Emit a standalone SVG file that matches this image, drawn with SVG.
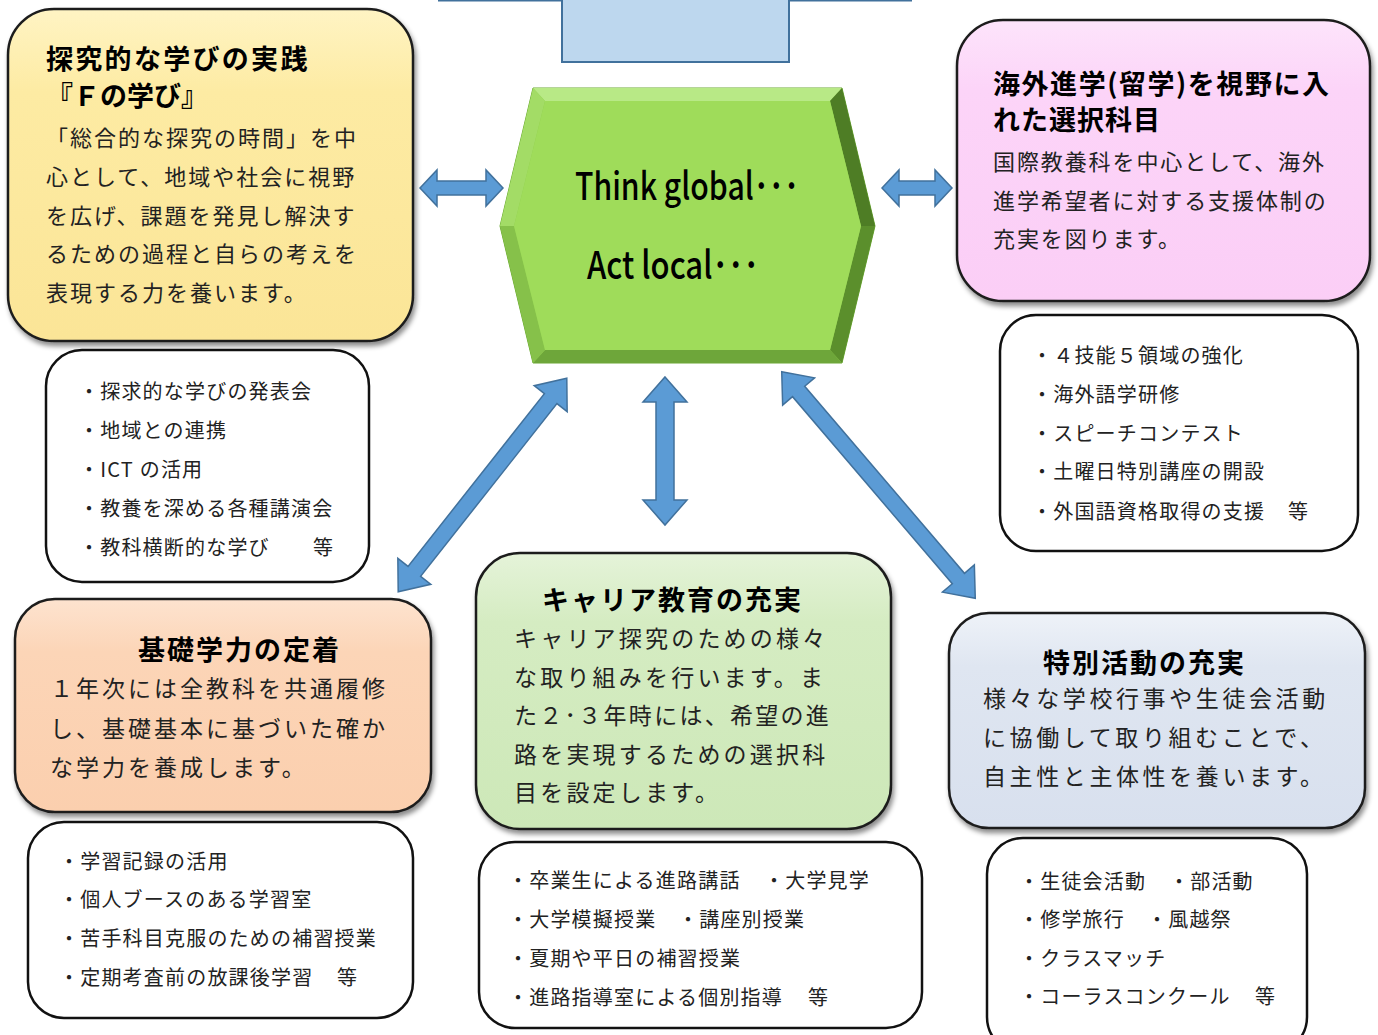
<svg xmlns="http://www.w3.org/2000/svg" width="1378" height="1035" viewBox="0 0 1378 1035">
<defs>
<style>
.card{stroke:#1e1e1e;stroke-width:2.5;filter:url(#sh)}
.list{fill:#fff;stroke:#111;stroke-width:2.5}
.ttl{font-family:"Noto Sans CJK JP","Noto Sans",sans-serif;font-weight:700;font-size:27px;fill:#000}
.body{font-family:"Liberation Serif","Noto Sans CJK JP",serif;font-weight:400;fill:#222}
.li{font-family:"Noto Sans CJK JP","Noto Sans",sans-serif;font-weight:400;font-size:20px;letter-spacing:1.2px;fill:#222}
.arr{fill:#5b9bd5;stroke:#41719c;stroke-width:1.5;stroke-linejoin:miter}
.hx{font-family:"Noto Sans CJK JP","Liberation Sans",sans-serif;font-weight:500;font-size:38px;fill:#000}
</style>
<filter id="sh" x="-10%" y="-10%" width="120%" height="125%">
<feDropShadow dx="2" dy="4" stdDeviation="2.5" flood-color="#000" flood-opacity="0.45"/>
</filter>
<linearGradient id="gY" x1="0" y1="0" x2="0" y2="1"><stop offset="0" stop-color="#fff4c4"/><stop offset="0.25" stop-color="#fdeba3"/><stop offset="1" stop-color="#fbe597"/></linearGradient>
<linearGradient id="gP" x1="0" y1="0" x2="0" y2="1"><stop offset="0" stop-color="#fde4fb"/><stop offset="0.25" stop-color="#fcd4f8"/><stop offset="1" stop-color="#fbcef6"/></linearGradient>
<linearGradient id="gO" x1="0" y1="0" x2="0" y2="1"><stop offset="0" stop-color="#fde3cf"/><stop offset="0.25" stop-color="#fcd5b7"/><stop offset="1" stop-color="#fbcfae"/></linearGradient>
<linearGradient id="gG" x1="0" y1="0" x2="0" y2="1"><stop offset="0" stop-color="#e5f3d9"/><stop offset="0.25" stop-color="#d5ecc2"/><stop offset="1" stop-color="#cde8b8"/></linearGradient>
<linearGradient id="gB" x1="0" y1="0" x2="0" y2="1"><stop offset="0" stop-color="#eef2f8"/><stop offset="0.25" stop-color="#dfe6f1"/><stop offset="1" stop-color="#d8e0ee"/></linearGradient>
</defs>

<rect width="1378" height="1035" fill="#fff"/>

<g id="top-block">
<line x1="438" y1="0.5" x2="912" y2="0.5" stroke="#41719c" stroke-width="2"/>
<rect x="562" y="-2" width="227" height="64" fill="#bdd7ee" stroke="#41719c" stroke-width="2"/>
</g>

<g id="center-hexagon">
<polygon points="533,88 842,88 875,226 842,363 533,363 500,226" fill="#8fcc4f" stroke="#6aa832" stroke-width="1"/>
<polygon points="533,88 842,88 830,101 545,101" fill="#b8e986"/>
<polygon points="842,88 875,226 861,226 830,101" fill="#4e7d25"/>
<polygon points="875,226 842,363 830,350 861,226" fill="#5b8f2c"/>
<polygon points="842,363 533,363 545,350 830,350" fill="#6ea63a"/>
<polygon points="533,363 500,226 514,226 545,350" fill="#86c14a"/>
<polygon points="500,226 533,88 545,101 514,226" fill="#a3dc66"/>
<polygon points="545,101 830,101 861,226 830,350 545,350 514,226" fill="#9fdc5a"/>
<text class="hx" x="575" y="200" textLength="224" lengthAdjust="spacingAndGlyphs">Think global･･･</text>
<text class="hx" x="587" y="279" textLength="172" lengthAdjust="spacingAndGlyphs">Act local･･･</text>
</g>

<g id="connectors">
<polygon class="arr" points="420,188 437,170 437,181 486,181 486,170 503,188 486,206 486,195 437,195 437,206"/>
<polygon class="arr" points="882,188 899,170 899,181 935,181 935,170 952,188 935,206 935,195 899,195 899,206"/>
<polygon class="arr" points="665,377 687,402 674,402 674,500 687,500 665,525 643,500 656,500 656,402 643,402"/>
<polygon class="arr" transform="translate(482.5,485) rotate(-51.7)" points="-136,0 -110,-21 -110,-8 110,-8 110,-21 136,0 110,21 110,8 -110,8 -110,21"/>
<polygon class="arr" transform="translate(878.5,485) rotate(49.5)" points="-149,0 -123,-21 -123,-8 123,-8 123,-21 149,0 123,21 123,8 -123,8 -123,21"/>
</g>

<g id="inquiry-learning">
<rect class="card" x="8" y="9" width="405" height="332" rx="46" fill="url(#gY)"/>
<text class="ttl" x="46" y="69" style="letter-spacing:2.3px">探究的な学びの実践</text>
<text class="ttl" x="46" y="106" style="letter-spacing:0px">『Ｆの学び』</text>
<g class="body" style="font-size:22px;letter-spacing:2px">
<text x="46" y="146">「総合的な探究の時間」を中</text>
<text x="46" y="185">心として、地域や社会に視野</text>
<text x="46" y="224">を広げ、課題を発見し解決す</text>
<text x="46" y="262">るための過程と自らの考えを</text>
<text x="46" y="301">表現する力を養います。</text>
</g>
</g>

<g id="overseas-study">
<rect class="card" x="957" y="20" width="413" height="281" rx="46" fill="url(#gP)"/>
<text class="ttl" x="993" y="94" textLength="336" lengthAdjust="spacing">海外進学(留学)を視野に入</text>
<text class="ttl" x="993" y="130" style="letter-spacing:1px">れた選択科目</text>
<g class="body" style="font-size:22px;letter-spacing:1.9px">
<text x="993" y="170">国際教養科を中心として、海外</text>
<text x="993" y="209">進学希望者に対する支援体制の</text>
<text x="993" y="247">充実を図ります。</text>
</g>
</g>

<g id="list-inquiry">
<rect class="list" x="46" y="350" width="323" height="232" rx="36"/>
<text class="li" x="79" y="399">・探求的な学びの発表会</text>
<text class="li" x="79" y="438">・地域との連携</text>
<text class="li" x="79" y="477">・ICT の活用</text>
<text class="li" x="79" y="516">・教養を深める各種講演会</text>
<text class="li" x="79" y="555">・教科横断的な学び</text>
<text class="li" x="313" y="555">等</text>
</g>

<g id="basic-skills">
<rect class="card" x="15" y="599" width="416" height="213" rx="40" fill="url(#gO)"/>
<text class="ttl" x="138" y="660" style="letter-spacing:2px">基礎学力の定着</text>
<g class="body" style="font-size:23px;letter-spacing:3px">
<text x="50" y="697">１年次には全教科を共通履修</text>
<text x="50" y="737">し、基礎基本に基づいた確か</text>
<text x="50" y="776">な学力を養成します。</text>
</g>
</g>

<g id="career-education">
<rect class="card" x="476" y="553" width="415" height="276" rx="44" fill="url(#gG)"/>
<text class="ttl" x="542" y="610" style="letter-spacing:2px">キャリア教育の充実</text>
<g class="body" style="font-size:23px;letter-spacing:3.2px">
<text x="514" y="647">キャリア探究のための様々</text>
<text x="514" y="686">な取り組みを行います。ま</text>
<text x="514" y="724" textLength="318" lengthAdjust="spacing">た２･３年時には、希望の進</text>
<text x="514" y="763">路を実現するための選択科</text>
<text x="514" y="801">目を設定します。</text>
</g>
</g>

<g id="special-activities">
<rect class="card" x="949" y="613" width="416" height="215" rx="40" fill="url(#gB)"/>
<text class="ttl" x="1043" y="673" style="letter-spacing:2px">特別活動の充実</text>
<g class="body" style="font-size:23px;letter-spacing:3.6px">
<text x="983" y="707">様々な学校行事や生徒会活動</text>
<text x="983" y="746">に協働して取り組むことで、</text>
<text x="983" y="785">自主性と主体性を養います。</text>
</g>
</g>

<g id="list-overseas">
<rect class="list" x="1000" y="315" width="358" height="236" rx="36"/>
<text class="li" x="1032" y="363">・４技能５領域の強化</text>
<text class="li" x="1032" y="402">・海外語学研修</text>
<text class="li" x="1032" y="441">・スピーチコンテスト</text>
<text class="li" x="1032" y="479">・土曜日特別講座の開設</text>
<text class="li" x="1032" y="519">・外国語資格取得の支援</text>
<text class="li" x="1288" y="519">等</text>
</g>

<g id="list-basic">
<rect class="list" x="28" y="822" width="385" height="196" rx="36"/>
<text class="li" x="59" y="869">・学習記録の活用</text>
<text class="li" x="59" y="907">・個人ブースのある学習室</text>
<text class="li" x="59" y="946">・苦手科目克服のための補習授業</text>
<text class="li" x="59" y="985">・定期考査前の放課後学習</text>
<text class="li" x="337" y="985">等</text>
</g>

<g id="list-career">
<rect class="list" x="479" y="842" width="443" height="186" rx="36"/>
<text class="li" x="508" y="888">・卒業生による進路講話</text>
<text class="li" x="764" y="888">・大学見学</text>
<text class="li" x="508" y="927">・大学模擬授業</text>
<text class="li" x="678" y="927">・講座別授業</text>
<text class="li" x="508" y="966">・夏期や平日の補習授業</text>
<text class="li" x="508" y="1005">・進路指導室による個別指導</text>
<text class="li" x="808" y="1005">等</text>
</g>

<g id="list-activities">
<rect class="list" x="987" y="838" width="320" height="215" rx="36"/>
<text class="li" x="1019" y="889">・生徒会活動</text>
<text class="li" x="1169" y="889">・部活動</text>
<text class="li" x="1019" y="927">・修学旅行</text>
<text class="li" x="1147" y="927">・風越祭</text>
<text class="li" x="1019" y="966">・クラスマッチ</text>
<text class="li" x="1019" y="1004">・コーラスコンクール</text>
<text class="li" x="1255" y="1004">等</text>
</g>
</svg>
